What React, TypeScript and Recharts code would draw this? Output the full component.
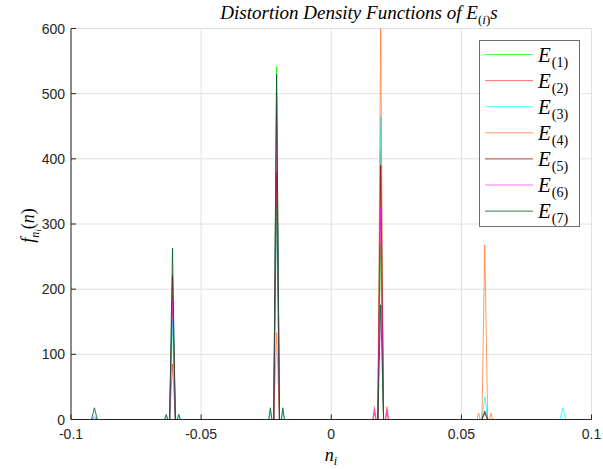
import React from 'react';
import { LineChart, Line, XAxis, YAxis, CartesianGrid, Legend } from 'recharts';

// ---- data ----
const xTicks = [-0.1, -0.05, 0, 0.05, 0.1];
const yTicks = [0, 100, 200, 300, 400, 500, 600];
const peakCenters = [-0.091, -0.061, -0.021, 0.019, 0.059, 0.089];
// sample offsets around each center and what each sample holds (z = zero, s = side lobe, p = peak)
const sampleOffsets = [-0.003, -0.0024, -0.0018, -0.0011, 0, 0.0011, 0.0018, 0.0024, 0.003];
const sampleKinds = ['z', 's', 'z', 'z', 'p', 'z', 'z', 's', 'z'];

const seriesNames = ['E1', 'E2', 'E3', 'E4', 'E5', 'E6', 'E7'];
const seriesLabels = ['1', '2', '3', '4', '5', '6', '7'];

const e1Peaks = [0, 190, 542, 268, 0, 0];
const e2Peaks = [0, 85, 500, 415, 0, 0];
const e3Peaks = [6, 153, 330, 465, 35, 18];
const e4Peaks = [0, 0, 133, 600, 268, 0];
const e5Peaks = [0, 221, 379, 390, 13, 0];
const e6Peaks = [3, 185, 481, 325, 0, 0];
const e7Peaks = [18, 263, 530, 176, 10, 0];

const e1Sides = [0, 0, 0, 0, 0, 0];
const e2Sides = [0, 0, 0, 10, 0, 0];
const e3Sides = [0, 5, 12, 0, 0, 0];
const e4Sides = [0, 0, 0, 20, 10, 0];
const e5Sides = [0, 0, 0, 0, 0, 0];
const e6Sides = [0, 0, 0, 16, 0, 0];
const e7Sides = [0, 8, 18, 0, 0, 0];

const allPeaks = [e1Peaks, e2Peaks, e3Peaks, e4Peaks, e5Peaks, e6Peaks, e7Peaks];
const allSides = [e1Sides, e2Sides, e3Sides, e4Sides, e5Sides, e6Sides, e7Sides];

const colors = ['#00ff00', '#ff0000', '#00ffff', '#ff7a30', '#a01010', '#ff00ff', '#005a28'];
const opacities = [0.7, 0.55, 0.75, 0.75, 0.8, 0.55, 0.8];

// build the table
const zeroRow = (x: number) => {
  const r: Record<string, number> = { x };
  seriesNames.forEach((n) => (r[n] = 0));
  return r;
};
const rows: Record<string, number>[] = [zeroRow(-0.1)];
peakCenters.forEach((c, ci) => {
  sampleOffsets.forEach((off, oi) => {
    const r: Record<string, number> = { x: +(c + off).toFixed(5) };
    seriesNames.forEach((n, si) => {
      const k = sampleKinds[oi];
      r[n] = k === 'p' ? allPeaks[si][ci] : k === 's' ? allSides[si][ci] : 0;
    });
    rows.push(r);
  });
});
rows.push(zeroRow(0.1));

const AX = '#262626';
const tickFont = { fontFamily: 'Liberation Sans, Arial, sans-serif', fontSize: 14, fill: AX };

const LeftTick = (p: any) => (
  <g>
    <line x1={p.x} x2={p.x + 5} y1={p.y} y2={p.y} stroke={AX} />
    <text x={p.x - 6} y={p.y} dy="0.36em" textAnchor="end" {...tickFont}>
      {p.payload.value}
    </text>
  </g>
);
const RightTick = (p: any) => (
  <line x1={p.x - 5} x2={p.x} y1={p.y} y2={p.y} stroke={AX} />
);
const BottomTick = (p: any) => (
  <g>
    <line x1={p.x} x2={p.x} y1={p.y} y2={p.y - 5} stroke={AX} />
    <text x={p.x} y={p.y + 19} textAnchor="middle" {...tickFont}>
      {p.payload.value}
    </text>
  </g>
);
const TopTick = (p: any) => (
  <line x1={p.x} x2={p.x} y1={p.y} y2={p.y + 5} stroke={AX} />
);

const serif = 'Liberation Serif, "Times New Roman", serif';

const LegendBox = () => (
  <svg width={101} height={187} style={{ display: 'block' }}>
    <rect x={0.5} y={0.5} width={100} height={186} fill="#fff" stroke="#6e6e6e" />
    {seriesNames.map((n, i) => {
      const y = 14.5 + i * 26.1;
      return (
        <g key={n}>
          <line x1={6} x2={54} y1={y} y2={y} stroke={colors[i]} strokeOpacity={opacities[i]} strokeWidth={1} />
          <text x={59} y={y + 7} fontFamily={serif} fill="#000">
            <tspan fontSize={21} fontStyle="italic">E</tspan>
            <tspan fontSize={14} dy={5} dx={1}>({seriesLabels[i]})</tspan>
          </text>
        </g>
      );
    })}
  </svg>
);

export default function App() {
  return (
    <div style={{ position: 'absolute', left: 0, top: 0, width: 603, height: 469, background: '#fff' }}>
      <LineChart
        width={603}
        height={469}
        data={rows}
        margin={{ top: 28.5, right: 11.5, bottom: 19.5, left: 31 }}
      >
        <CartesianGrid xAxisId="b" yAxisId="l" stroke="#e0e0e0" horizontalValues={yTicks} verticalValues={xTicks} />
        <XAxis
          xAxisId="b"
          dataKey="x"
          type="number"
          domain={[-0.1, 0.1]}
          ticks={xTicks}
          allowDataOverflow
          height={30}
          tickSize={0}
          tickMargin={0}
          tickLine={false}
          axisLine={{ stroke: AX }}
          tick={<BottomTick />}
          interval={0}
        />
        <XAxis
          xAxisId="t"
          orientation="top"
          dataKey="x"
          type="number"
          domain={[-0.1, 0.1]}
          ticks={xTicks}
          allowDataOverflow
          height={0}
          tickSize={0}
          tickMargin={0}
          tickLine={false}
          axisLine={{ stroke: AX }}
          tick={<TopTick />}
          interval={0}
        />
        <YAxis
          yAxisId="l"
          type="number"
          domain={[0, 600]}
          ticks={yTicks}
          allowDataOverflow
          width={40}
          tickSize={0}
          tickMargin={0}
          tickLine={false}
          axisLine={{ stroke: AX }}
          tick={<LeftTick />}
          interval={0}
        />
        <YAxis
          yAxisId="r"
          orientation="right"
          type="number"
          domain={[0, 600]}
          ticks={yTicks}
          allowDataOverflow
          width={0}
          tickSize={0}
          tickMargin={0}
          tickLine={false}
          axisLine={{ stroke: AX }}
          tick={<RightTick />}
          interval={0}
        />
        {seriesNames.map((n, i) => (
          <Line
            key={n}
            xAxisId="b"
            yAxisId="l"
            dataKey={n}
            type="linear"
            stroke={colors[i]}
            strokeOpacity={opacities[i]}
            strokeWidth={1}
            dot={false}
            activeDot={false}
            isAnimationActive={false}
          />
        ))}
        <Legend
          layout="vertical"
          align="center"
          verticalAlign="middle"
          content={<LegendBox />}
          wrapperStyle={{ position: 'absolute', left: 479, top: 40, width: 101, height: 187 }}
        />
      </LineChart>
      <div
        style={{
          position: 'absolute',
          left: 99,
          width: 520,
          top: 1,
          textAlign: 'center',
          fontFamily: serif,
          fontStyle: 'italic',
          fontSize: 19,
          lineHeight: '24px',
          color: '#000',
          whiteSpace: 'nowrap',
        }}
      >
        Distortion Density Functions of E
        <span style={{ fontSize: 13, position: 'relative', top: 5 }}>
          <span style={{ fontStyle: 'normal' }}>(</span>i<span style={{ fontStyle: 'normal' }}>)</span>
        </span>
        s
      </div>
      <div
        style={{
          position: 'absolute',
          left: 311,
          width: 40,
          top: 444,
          textAlign: 'center',
          fontFamily: serif,
          fontStyle: 'italic',
          fontSize: 18,
          lineHeight: '22px',
          color: '#000',
        }}
      >
        n<span style={{ fontSize: 12, position: 'relative', top: 4 }}>i</span>
      </div>
      <div
        style={{
          position: 'absolute',
          left: 29,
          top: 224,
          width: 0,
          height: 0,
        }}
      >
        <div
          style={{
            position: 'absolute',
            left: -40,
            top: -12,
            width: 80,
            textAlign: 'center',
            transform: 'rotate(-90deg)',
            fontFamily: serif,
            fontSize: 18,
            lineHeight: '24px',
            color: '#000',
            whiteSpace: 'nowrap',
          }}
        >
          <i>f</i>
          <span style={{ fontSize: 12, position: 'relative', top: 5, fontStyle: 'italic' }}>
            n<span style={{ fontSize: 9, position: 'relative', top: 2 }}>i</span>
          </span>
          (<i>n</i>)
        </div>
      </div>
    </div>
  );
}
